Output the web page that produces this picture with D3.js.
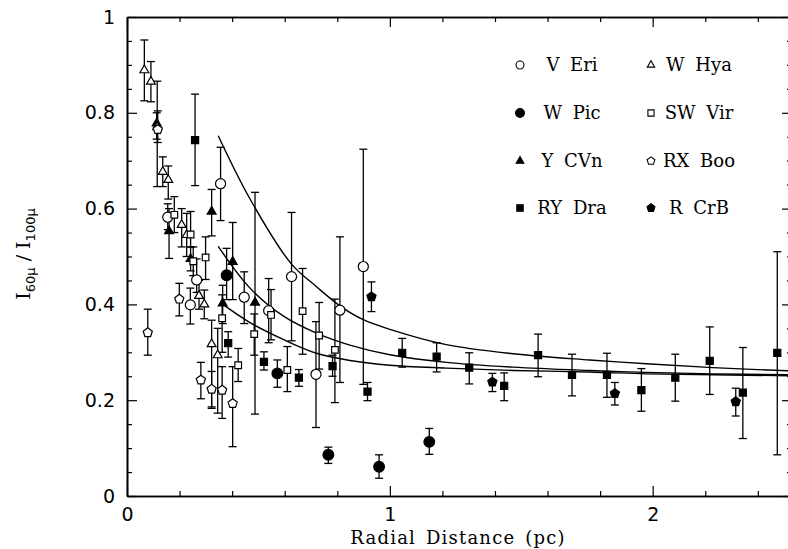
<!DOCTYPE html>
<html><head><meta charset="utf-8">
<script src="https://cdn.jsdelivr.net/npm/d3@7"></script>
<style>body{margin:0;background:#fff}</style>
</head><body>
<svg id="c" width="788" height="549"></svg>
<script>
// ---- data: [radial distance (pc), I60/I100, low, high]
const vEri = [[0.155,0.582,0.556,0.610],[0.241,0.399,0.359,0.434],[0.265,0.451,0.425,0.495],[0.356,0.652,0.575,0.728],
  [0.446,0.415,0.360,0.468],[0.539,0.387,0.320,0.454],[0.626,0.458,0.324,0.592],[0.719,0.254,0.143,0.364],
  [0.810,0.388,0.237,0.541],[0.899,0.479,0.233,0.724]];
const wPic = [[0.379,0.461,0.410,0.517],[0.572,0.256,0.227,0.284],[0.766,0.086,0.068,0.102],[0.959,0.061,0.037,0.086],[1.150,0.113,0.087,0.141]];
const yCVn = [[0.113,0.778,0.745,0.800],[0.160,0.553,0.496,0.600],[0.242,0.495,0.470,0.520],[0.322,0.594,0.543,0.640],
  [0.364,0.402,0.360,0.440],[0.402,0.489,0.410,0.571],[0.487,0.404,0.171,0.634]];
const ryDra = [[0.259,0.743,0.648,0.839],[0.385,0.319,0.290,0.343],[0.521,0.280,0.263,0.301],[0.654,0.247,0.229,0.264],
  [0.782,0.271,0.250,0.294],[0.915,0.218,0.199,0.237],[1.047,0.299,0.269,0.329],[1.178,0.291,0.259,0.320],
  [1.302,0.268,0.234,0.299],[1.435,0.230,0.199,0.257],[1.564,0.294,0.249,0.338],[1.693,0.253,0.209,0.296],
  [1.826,0.253,0.206,0.298],[1.957,0.221,0.177,0.266],[2.086,0.247,0.198,0.296],[2.217,0.282,0.212,0.353],
  [2.343,0.216,0.120,0.310],[2.474,0.299,0.086,0.510]];
const wHya = [[0.066,0.889,0.825,0.952],[0.091,0.865,0.823,0.907],[0.115,0.770,0.646,0.866],[0.136,0.677,0.646,0.708],
  [0.157,0.660,0.620,0.689],[0.208,0.566,0.520,0.600],[0.227,0.545,0.500,0.590],[0.274,0.418,0.390,0.450],
  [0.294,0.400,0.370,0.430],[0.322,0.317,0.186,0.367],[0.345,0.294,0.173,0.350]];
const swVir = [[0.180,0.587,0.550,0.625],[0.242,0.546,0.520,0.594],[0.252,0.490,0.460,0.520],[0.299,0.498,0.452,0.541],
  [0.362,0.371,0.300,0.420],[0.423,0.273,0.239,0.308],[0.484,0.338,0.294,0.380],[0.548,0.378,0.326,0.431],
  [0.610,0.263,0.218,0.312],[0.668,0.386,0.296,0.475],[0.731,0.335,0.265,0.404],[0.791,0.305,0.195,0.411]];
const rxBoo = [[0.079,0.341,0.294,0.390],[0.117,0.765,0.738,0.804],[0.199,0.411,0.376,0.444],[0.281,0.242,0.203,0.279],
  [0.322,0.223,0.183,0.260],[0.362,0.221,0.162,0.270],[0.402,0.193,0.103,0.270]];
const rCrB = [[0.930,0.416,0.385,0.447],[1.390,0.238,0.218,0.256],[1.856,0.214,0.190,0.237],[2.316,0.197,0.167,0.225]];

// model curves
const curveA = [[0.347,0.752],[0.468,0.620],[0.626,0.484],[0.721,0.437],[0.810,0.397],
  [0.899,0.368],[1.0,0.348],[1.215,0.316],[1.469,0.297],[1.760,0.284],
  [1.976,0.276],[2.229,0.268],[2.53,0.261]];
const curveB = [[0.347,0.521],[0.468,0.434],[0.594,0.376],[0.721,0.340],[0.848,0.315],
  [1.0,0.295],[1.215,0.279],[1.469,0.269],[1.760,0.262],[1.976,0.258],
  [2.229,0.255],[2.53,0.253]];
const curveC = [[0.362,0.401],[0.468,0.362],[0.594,0.327],[0.721,0.298],[0.848,0.283],
  [1.0,0.273],[1.215,0.267],[1.469,0.262],[1.760,0.259],[1.976,0.255],
  [2.229,0.253],[2.53,0.251]];

const xMajor = [0,1,2];
const xMinor = [0.2,0.4,0.6,0.8,1.2,1.4,1.6,1.8,2.2,2.4];
const yMajor = [0,0.2,0.4,0.6,0.8,1];
const yMinor = [0.05,0.1,0.15,0.25,0.3,0.35,0.45,0.5,0.55,0.65,0.7,0.75,0.85,0.9,0.95];

const legendNames = ["V Eri","W Hya","W Pic","SW Vir","Y CVn","RX Boo","RY Dra","R CrB"];

// ---- drawing
const svg = d3.select("#c");
const L=127, R=792, T=17, B=496;
const x = d3.scaleLinear([0,2.53],[L,R]);
const y = d3.scaleLinear([0,1],[B,T]);

const pentagon = {draw(ctx,size){const r=Math.sqrt(size/(2.5*Math.sin(2*Math.PI/5)));
  for(let i=0;i<5;i++){const a=-Math.PI/2+i*2*Math.PI/5;const px=r*Math.cos(a),py=r*Math.sin(a); if(i)ctx.lineTo(px,py); else ctx.moveTo(px,py);} ctx.closePath();}};

const series = [
  {data:vEri, type:d3.symbolCircle, size:80, fill:false},
  {data:wPic, type:d3.symbolCircle, size:90, fill:true},
  {data:yCVn, type:d3.symbolTriangle, size:34, fill:true},
  {data:ryDra, type:d3.symbolSquare, size:50, fill:true},
  {data:wHya, type:d3.symbolTriangle, size:34, fill:false},
  {data:swVir, type:d3.symbolSquare, size:44, fill:false},
  {data:rxBoo, type:pentagon, size:55, fill:false},
  {data:rCrB, type:pentagon, size:55, fill:true}
];

const fontNum = "'DejaVu Sans', sans-serif";
const fontSerif = "'DejaVu Serif', serif";

// axes
function axisGroup(axis, transform, size, labels, pad){
  const g = svg.append("g").attr("transform",transform)
    .call(axis.tickSizeInner(-size).tickSizeOuter(0).tickPadding(pad).tickFormat(labels?(d=>String(+d.toFixed(1))):()=>""));
  g.selectAll("path.domain").attr("stroke","#000").attr("stroke-width",1.6);
  g.selectAll(".tick line").attr("stroke","#000").attr("stroke-width",1.2);
  g.selectAll("text").attr("font-family",fontNum).attr("font-size",19).attr("fill","#000");
  return g;
}
axisGroup(d3.axisBottom(x).tickValues(xMajor), `translate(0,${B})`, 10, true, 12);
axisGroup(d3.axisBottom(x).tickValues(xMinor), `translate(0,${B})`, 5, false, 0);
axisGroup(d3.axisTop(x).tickValues(xMajor), `translate(0,${T})`, 10, false, 0);
axisGroup(d3.axisTop(x).tickValues(xMinor), `translate(0,${T})`, 5, false, 0);
axisGroup(d3.axisLeft(y).tickValues(yMajor), `translate(${L},0)`, 10, true, 12);
axisGroup(d3.axisLeft(y).tickValues(yMinor), `translate(${L},0)`, 5, false, 0);
axisGroup(d3.axisRight(y).tickValues(yMajor), `translate(${R},0)`, 10, false, 0);
axisGroup(d3.axisRight(y).tickValues(yMinor), `translate(${R},0)`, 5, false, 0);

// curves
const line = d3.line().x(d=>x(d[0])).y(d=>y(d[1])).curve(d3.curveCatmullRom.alpha(0.5));
[curveA,curveB,curveC].forEach(c=>{
  svg.append("path").attr("d",line(c)).attr("fill","none").attr("stroke","#000").attr("stroke-width",1.4);
});

// error bars
const eb = svg.append("g").attr("stroke","#000").attr("stroke-width",1.3);
series.forEach(s=>{
  s.data.forEach(d=>{
    eb.append("line").attr("x1",x(d[0])).attr("x2",x(d[0])).attr("y1",y(d[2])).attr("y2",y(d[3]));
    [d[2],d[3]].forEach(v=>eb.append("line").attr("x1",x(d[0])-4).attr("x2",x(d[0])+4).attr("y1",y(v)).attr("y2",y(v)));
  });
});
// symbols
series.forEach(s=>{
  svg.append("g").selectAll("path").data(s.data).join("path")
    .attr("transform",d=>`translate(${x(d[0])},${y(d[1])})`)
    .attr("d",d3.symbol(s.type,s.size))
    .attr("fill",s.fill?"#000":"#fff").attr("stroke","#000").attr("stroke-width",1.2);
});

// legend
const legSym = [
  {type:d3.symbolCircle,size:50,fill:false},{type:d3.symbolTriangle,size:24,fill:false},
  {type:d3.symbolCircle,size:62,fill:true},{type:d3.symbolSquare,size:38,fill:false},
  {type:d3.symbolTriangle,size:26,fill:true},{type:pentagon,size:40,fill:false},
  {type:d3.symbolSquare,size:42,fill:true},{type:pentagon,size:42,fill:true}
];
const legRowY = [65,113,161,208];
const legSymX = [520,651], legTextX=[572,699];
legendNames.forEach((n,i)=>{
  const col=i%2,row=Math.floor(i/2);
  svg.append("path").attr("transform",`translate(${legSymX[col]},${legRowY[row]})`)
    .attr("d",d3.symbol(legSym[i].type,legSym[i].size)).attr("fill",legSym[i].fill?"#000":"#fff")
    .attr("stroke","#000").attr("stroke-width",1.1);
  svg.append("text").attr("x",legTextX[col]).attr("y",legRowY[row]).attr("dy","0.35em")
    .attr("text-anchor","middle").attr("font-family",fontSerif).attr("font-size",18)
    .attr("word-spacing",5).text(n);
});

// axis titles
svg.append("text").attr("x",458).attr("y",544).attr("text-anchor","middle")
  .attr("font-family",fontSerif).attr("font-size",18).attr("letter-spacing",1.2).attr("word-spacing",3)
  .text("Radial Distance (pc)");
const yl = svg.append("text").attr("transform","translate(30,254) rotate(-90)").attr("text-anchor","middle")
  .attr("font-family",fontSerif).attr("font-size",19);
yl.append("tspan").text("I");
yl.append("tspan").attr("dy",5).attr("font-size",13).attr("font-family",fontNum).text("60μ");
yl.append("tspan").attr("dy",-5).text(" / I");
yl.append("tspan").attr("dy",5).attr("font-size",13).attr("font-family",fontNum).text("100μ");
</script>
</body></html>
